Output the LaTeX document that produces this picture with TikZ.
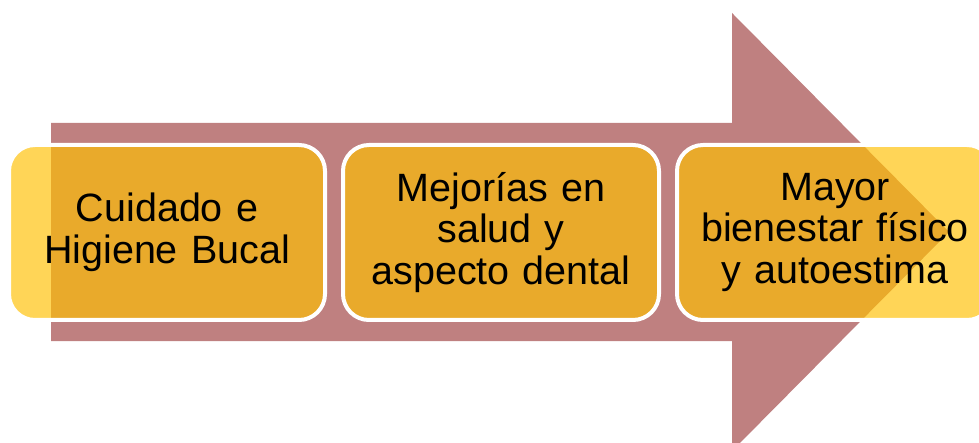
\documentclass[tikz,border=0pt]{standalone}
\usepackage{fontspec}
\setmainfont{Liberation Sans}
\usetikzlibrary{positioning}
\definecolor{rosa}{RGB}{191,128,128}
\definecolor{oro}{RGB}{255,192,0}
\begin{document}
\begin{tikzpicture}[x=1pt, y=-1pt, line join=round,
	caja/.style={draw=white, line width=4pt, fill=oro, fill opacity=.66, text opacity=1,
		rounded corners=26pt, minimum width=316pt, minimum height=175pt, inner sep=0pt,
		text width=300pt, align=center, font=\fontsize{39.5}{41.5}\selectfont}]
	\def\a{123} % borde superior del cuerpo
	\def\b{341} % borde inferior del cuerpo
	\def\c{732} % base de la punta
	\useasboundingbox (0,0) rectangle (979,443);
	\clip (0,0) rectangle (979,443);
	\fill[rosa] (51,\a)--(\c,\a)--(\c,13)--(949,232)--(\c,451)--(\c,\b)--(51,\b)--cycle;
	\node[caja] (cuidado) at (167,232.5) {Cuidado e\\Higiene Bucal};
	\node[caja, right=14pt of cuidado] (mejoras) {Mejorías en\\salud y\\aspecto dental};
	\node[caja, right=14pt of mejoras] (bienestar) {Mayor\\bienestar físico\\y autoestima};
\end{tikzpicture}
\end{document}
